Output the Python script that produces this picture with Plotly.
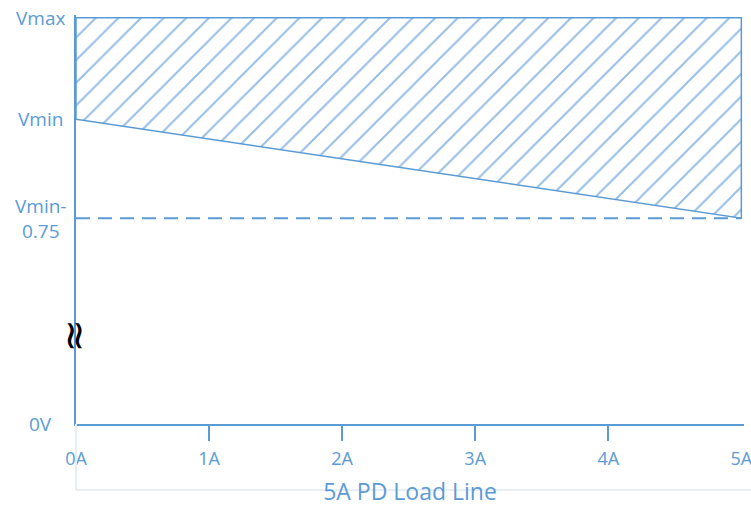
import plotly.graph_objects as go

# ---- data ----
current_ticks = [0, 1, 2, 3, 4, 5]
current_labels = ["0A", "1A", "2A", "3A", "4A", "5A"]
V_MAX = 3.08
V_MIN = 2.31
V_MIN_075 = V_MIN - 0.75
voltage_levels = [0, V_MIN_075, V_MIN, V_MAX]
voltage_labels = ["0V", "Vmin-<br>0.75", "Vmin", "Vmax"]
load_line_x = [0, 5]
load_line_v = [V_MIN, V_MIN_075]
break_v = 0.667

BLUE = "#5B9BD5"
FONT = "Open Sans"

fig = go.Figure()

# hatched allowed region
poly_x = [load_line_x[0], load_line_x[1], load_line_x[1], load_line_x[0], load_line_x[0]]
poly_y = [load_line_v[0], load_line_v[1], V_MAX, V_MAX, load_line_v[0]]
fig.add_trace(go.Scatter(
    x=poly_x, y=poly_y, mode="lines", fill="toself",
    fillcolor="rgba(0,0,0,0)",
    fillpattern=dict(shape="/", fgcolor="#2E7BCB", bgcolor="white", size=16, solidity=0.12),
    line=dict(color=BLUE, width=1.5),
    hoverinfo="skip", showlegend=False,
))

# dashed Vmin-0.75 line
fig.add_trace(go.Scatter(
    x=load_line_x, y=[V_MIN_075, V_MIN_075], mode="lines",
    line=dict(color=BLUE, width=2, dash="14px,8px"),
    xaxis="x2", hoverinfo="skip", showlegend=False,
))

fig.update_layout(
    width=751, height=506,
    margin=dict(l=76, r=7, t=15, b=82, autoexpand=False),
    plot_bgcolor="white", paper_bgcolor="white",
    xaxis=dict(
        range=[0, 5.02], showgrid=False, zeroline=False, automargin=False,
        showline=True, linecolor=BLUE, linewidth=2,
        tickvals=current_ticks[1:-1], ticks="outside", ticklen=15,
        tickwidth=2, tickcolor=BLUE, showticklabels=False,
    ),
    xaxis2=dict(
        range=[0, 5.02], overlaying="x", anchor="y", side="bottom",
        showgrid=False, zeroline=False, showline=False, automargin=False,
        tickvals=current_ticks, ticktext=current_labels, ticks="",
        ticklabelstandoff=22, ticklabeloverflow="allow",
        tickfont=dict(family=FONT, size=18, color=BLUE),
    ),
    yaxis=dict(
        range=[0, 3.1], showgrid=False, zeroline=False, automargin=False,
        showline=True, linecolor=BLUE, linewidth=2,
        showticklabels=False, ticks="",
    ),
    title=dict(
        text="5A PD Load Line", x=0.5, xref="paper", xanchor="center",
        y=(506 - 492) / 506, yref="container", yanchor="middle",
        font=dict(family=FONT, size=23, color=BLUE), automargin=False,
    ),
)

# y level labels
for v, lab in zip(voltage_levels, voltage_labels):
    fig.add_annotation(
        x=(40 - 76) / 668, xref="paper", y=v, yref="y",
        text=lab, showarrow=False, xanchor="center", yanchor="middle",
        font=dict(family=FONT, size=19, color=BLUE),
    )

# axis break symbol
fig.add_annotation(
    x=0, xref="x", y=break_v, yref="y", text="≈", showarrow=False,
    textangle=90, font=dict(family="DejaVu Sans", size=40, color="black"),
)

# faint chart frame
fig.add_shape(type="line", xref="paper", yref="paper", x0=0, x1=0, y0=0, y1=-66 / 409,
              line=dict(color="#E9EEF5", width=2))
fig.add_shape(type="line", xref="paper", yref="paper", x0=0, x1=1.02, y0=-66 / 409, y1=-66 / 409,
              line=dict(color="#E9EEF5", width=2))

fig.write_html("out.html", config={"displayModeBar": False},
               post_script="document.body.style.margin='0';")
